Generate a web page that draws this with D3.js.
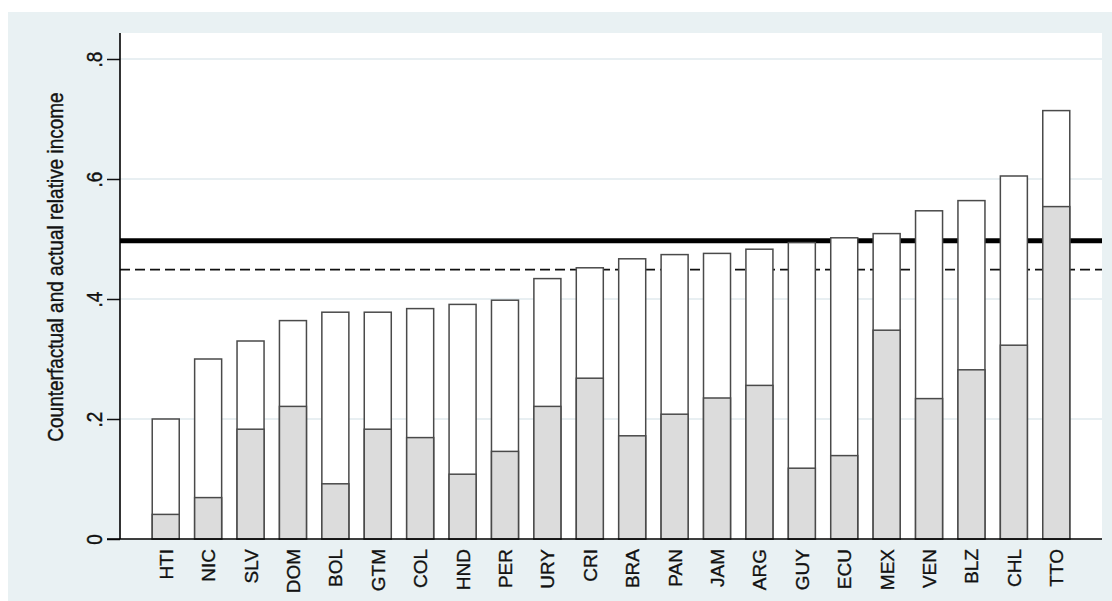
<!DOCTYPE html>
<html>
<head>
<meta charset="utf-8">
<script src="https://cdn.jsdelivr.net/npm/d3@7"></script>
<style>
  body { margin: 0; background: #ffffff; }
  text { font-family: "Liberation Sans", Arial, sans-serif; fill: #111; stroke: #111; stroke-width: 0.35px; }
</style>
</head>
<body>
<div id="wrapper"></div>
<script>
// data
const countries = ["HTI","NIC","SLV","DOM","BOL","GTM","COL","HND","PER","URY","CRI",
  "BRA","PAN","JAM","ARG","GUY","ECU","MEX","VEN","BLZ","CHL","TTO"]
const counterfactual = [0.200,0.300,0.330,0.364,0.378,0.378,0.384,0.391,0.398,0.434,0.452,
  0.467,0.474,0.476,0.483,0.494,0.502,0.509,0.547,0.564,0.605,0.714]
const actual = [0.041,0.069,0.183,0.221,0.092,0.183,0.169,0.108,0.146,0.221,0.268,
  0.172,0.208,0.235,0.256,0.118,0.139,0.348,0.234,0.282,0.323,0.554]
const yTicks = [0, 0.2, 0.4, 0.6, 0.8]
const yTickLabels = ["0", ".2", ".4", ".6", ".8"]
const solidLineValue = 0.497
const dashedLineValue = 0.449
const yTitle = "Counterfactual and actual relative income"

const dimensions = {
  width: 1112,
  height: 601,
  margin: { top: 33, right: 10, bottom: 62, left: 120 },
}
dimensions.boundedWidth = dimensions.width - dimensions.margin.left - dimensions.margin.right
dimensions.boundedHeight = dimensions.height - dimensions.margin.top - dimensions.margin.bottom

const wrapper = d3.select("#wrapper")
  .append("svg")
    .attr("width", dimensions.width)
    .attr("height", dimensions.height)

// outer background
wrapper.append("rect")
    .attr("x", 8).attr("y", 12)
    .attr("width", dimensions.width - 8)
    .attr("height", dimensions.height - 12)
    .attr("fill", "#e9f1f3")

const bounds = wrapper.append("g")
    .attr("transform", `translate(${dimensions.margin.left},${dimensions.margin.top})`)

bounds.append("rect")
    .attr("width", dimensions.boundedWidth)
    .attr("height", dimensions.boundedHeight)
    .attr("fill", "#ffffff")

// scales
const yScale = d3.scaleLinear()
    .domain([0, 0.8])
    .range([dimensions.boundedHeight, dimensions.boundedHeight - 480])

const xScale = d3.scaleBand()
    .domain(countries)
    .range([0, dimensions.boundedWidth])
    .paddingInner(0.363)
    .paddingOuter(0.76)

// grid
bounds.selectAll(".grid")
  .data(yTicks.slice(1))
  .join("line")
    .attr("x1", 0).attr("x2", dimensions.boundedWidth)
    .attr("y1", d => yScale(d)).attr("y2", d => yScale(d))
    .attr("stroke", "#e1eaee")
    .attr("stroke-width", 1.5)

// reference lines (behind the bars)
bounds.append("line")
    .attr("x1", 0).attr("x2", dimensions.boundedWidth)
    .attr("y1", yScale(solidLineValue)).attr("y2", yScale(solidLineValue))
    .attr("stroke", "#000")
    .attr("stroke-width", 5)

bounds.append("line")
    .attr("x1", 0).attr("x2", dimensions.boundedWidth)
    .attr("y1", yScale(dashedLineValue)).attr("y2", yScale(dashedLineValue))
    .attr("stroke", "#111")
    .attr("stroke-width", 1.8)
    .attr("stroke-dasharray", "10,5")

// bars: counterfactual (white) and actual (grey)
const rows = countries.map((c, i) => ({ c, cf: counterfactual[i], act: actual[i] }))

bounds.selectAll(".cf")
  .data(rows)
  .join("rect")
    .attr("x", d => xScale(d.c))
    .attr("y", d => yScale(d.cf))
    .attr("width", xScale.bandwidth())
    .attr("height", d => yScale(0) - yScale(d.cf))
    .attr("fill", "#ffffff")
    .attr("stroke", "#4a4a4a")
    .attr("stroke-width", 1.5)

bounds.selectAll(".act")
  .data(rows)
  .join("rect")
    .attr("x", d => xScale(d.c))
    .attr("y", d => yScale(d.act))
    .attr("width", xScale.bandwidth())
    .attr("height", d => yScale(0) - yScale(d.act))
    .attr("fill", "#dcdcdc")
    .attr("stroke", "#4a4a4a")
    .attr("stroke-width", 1.5)

// axes
const yAxisGenerator = d3.axisLeft(yScale)
    .tickValues(yTicks)
    .tickSize(13)
    .tickFormat((d, i) => yTickLabels[i])

const yAxis = bounds.append("g").call(yAxisGenerator)
yAxis.select(".domain").remove()
yAxis.selectAll(".tick line").attr("stroke", "#111").attr("stroke-width", 1.5)
yAxis.selectAll(".tick text")
    .attr("x", null).attr("dy", null)
    .attr("transform", "translate(-18,0) rotate(-90) scale(1,1.15)")
    .attr("text-anchor", "middle")
    .style("font-size", "19px")
    .style("font-family", "'Liberation Sans', Arial, sans-serif")
    .attr("fill", "#111")

bounds.append("line")
    .attr("x1", 0).attr("x2", 0)
    .attr("y1", 0).attr("y2", dimensions.boundedHeight)
    .attr("stroke", "#000").attr("stroke-width", 1.6)

bounds.append("line")
    .attr("x1", -13).attr("x2", dimensions.boundedWidth)
    .attr("y1", dimensions.boundedHeight).attr("y2", dimensions.boundedHeight)
    .attr("stroke", "#000").attr("stroke-width", 1.6)

// x labels
bounds.selectAll(".xlabel")
  .data(countries)
  .join("text")
    .attr("transform", d => `translate(${xScale(d) + xScale.bandwidth() / 2 + 7},${dimensions.boundedHeight + 10}) rotate(-90)`)
    .attr("text-anchor", "end")
    .style("font-size", "19px")
    .text(d => d)

// y title
wrapper.append("text")
    .attr("transform", `translate(63,267) rotate(-90) scale(1,1.2)`)
    .attr("text-anchor", "middle")
    .style("font-size", "19px")
    .text(yTitle)
</script>
</body>
</html>
